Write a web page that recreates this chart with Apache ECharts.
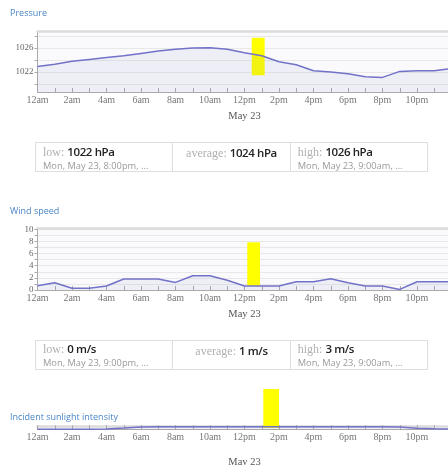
<!DOCTYPE html>
<html>
<head>
<meta charset="utf-8">
<script src="https://cdn.jsdelivr.net/npm/echarts@6/dist/echarts.min.js"></script>
<style>
  html, body { margin: 0; padding: 0; width: 448px; height: 465px; overflow: hidden; background: #fff; }
  #chart { position: absolute; left: 0; top: 0; width: 460px; height: 465px; }
  .title { position: absolute; left: 10px; font: 9px "Open Sans", sans-serif; color: #4a86c5; line-height: 12px; }
  .summary { position: absolute; left: 35px; width: 393px; height: 30px; box-sizing: border-box;
    border: 1px solid #dedede; display: flex; font-family: "Open Sans", sans-serif; }
  .summary .cell { box-sizing: border-box; padding: 1px 7px 0 7px; border-right: 1px solid #dedede; white-space: nowrap; overflow: hidden; }
  .summary .cell:last-child { border-right: none; }
  .summary .mid { text-align: center; padding-top: 2px; }
  .wind .cell { padding-top: 0; }
  .wind .mid { padding-top: 2px; }
  .lbl { font: 12px "Liberation Serif", serif; color: #b0b0b0; }
  .val { font-size: 11.5px; font-weight: 600; color: #222; letter-spacing: -0.4px; }
  .line1 { line-height: 13px; }
  .when { font-size: 9.3px; color: #9a9a9a; line-height: 12px; }
</style>
</head>
<body>
<div id="chart"></div>

<div class="title" style="top:7px">Pressure</div>
<div class="summary" style="top:142px">
  <div class="cell" style="width:138px"><div class="line1"><span class="lbl">low: </span><span class="val">1022 hPa</span></div><div class="when">Mon, May 23, 8:00pm, ...</div></div>
  <div class="cell mid" style="width:118px"><div class="line1"><span class="lbl">average: </span><span class="val">1024 hPa</span></div></div>
  <div class="cell" style="width:137px"><div class="line1"><span class="lbl">high: </span><span class="val">1026 hPa</span></div><div class="when">Mon, May 23, 9:00am, ...</div></div>
</div>

<div class="title" style="top:205px">Wind speed</div>
<div class="summary wind" style="top:340px">
  <div class="cell" style="width:138px"><div class="line1"><span class="lbl">low: </span><span class="val">0 m/s</span></div><div class="when">Mon, May 23, 9:00pm, ...</div></div>
  <div class="cell mid" style="width:118px"><div class="line1"><span class="lbl">average: </span><span class="val">1 m/s</span></div></div>
  <div class="cell" style="width:137px"><div class="line1"><span class="lbl">high: </span><span class="val">3 m/s</span></div><div class="when">Mon, May 23, 9:00am, ...</div></div>
</div>

<div class="title" style="top:411px">Incident sunlight intensity</div>

<script>
// hours 0..24 of May 23
const hours = [0, 1, 2, 3, 4, 5, 6, 7, 8, 9, 10, 11, 12, 13, 14, 15, 16, 17, 18, 19, 20, 21, 22, 23, 24]
const hourLabels = ['12am', '2am', '4am', '6am', '8am', '10am', '12pm', '2pm', '4pm', '6pm', '8pm', '10pm']
const dayLabel = 'May 23'

const pressure = [1022.9, 1023.3, 1023.8, 1024.1, 1024.4, 1024.7, 1025.1, 1025.5, 1025.8, 1026.0, 1026.05, 1025.8,
  1025.2, 1024.7, 1023.7, 1023.2, 1022.2, 1022.0, 1021.7, 1021.2, 1021.1, 1022.1, 1022.2, 1022.2, 1022.6]
const wind = [0.7, 1.2, 0.3, 0.3, 0.65, 1.8, 1.8, 1.8, 1.25, 2.35, 2.35, 1.6,
  0.65, 0.65, 0.65, 1.35, 1.35, 1.85, 1.2, 0.65, 0.65, 0.1, 1.35, 1.35, 1.35]
const sunlight = [0, 0, 0, 0, 0.08, 0.36, 0.7, 0.77, 0.78, 0.78, 0.78, 0.78,
  0.78, 0.78, 0.78, 0.78, 0.78, 0.78, 0.78, 0.78, 0.77, 0.72, 0.32, 0.14, 0.05]

// yellow "now" markers: [hourFrom, hourTo, valueTop, valueBottom]
const pressureMark = [12.42, 13.17, 1027.7, 1021.45]
const windMark = [12.16, 12.9, 7.85, 0.7]
// the sunlight one sticks out above its plot, it gets its own hidden 0..1 band
const sunMark = [13.09, 14.0, 1, 0.22]

const lineColor = '#7272c8'
const serif = '"Liberation Serif", "DejaVu Serif", serif'

const chart = echarts.init(document.getElementById('chart'))

const grids = [
  { left: 37.5, top: 31.5, width: 414, height: 60.5 },
  { left: 37.5, top: 228, width: 414, height: 62 },
  { left: 37.5, top: 426, width: 414, height: 13 }
]
const nameGaps = [19, 19, 27]

const xAxes = []
grids.forEach((g, i) => {
  xAxes.push({
    type: 'value', gridIndex: i, min: 0, max: 24, interval: 1,
    name: dayLabel, nameLocation: 'middle', nameGap: nameGaps[i],
    nameTextStyle: { fontFamily: serif, fontSize: 10.5, color: '#555' },
    axisLine: { lineStyle: { color: '#aaa' } },
    axisTick: { inside: true, length: 4, lineStyle: { color: '#aaa' } },
    axisLabel: {
      margin: 3, fontFamily: serif, fontSize: 10, color: '#777',
      showMaxLabel: false,
      formatter: v => (v % 2 === 0 && v < 24) ? hourLabels[v / 2] : ''
    },
    splitLine: { show: false }
  })
  xAxes.push({
    type: 'value', gridIndex: i, min: 0, max: 24, position: 'top',
    axisLine: { lineStyle: { color: '#dcdcdc', width: 2.5 } },
    axisTick: { show: false }, axisLabel: { show: false }, splitLine: { show: false }
  })
})
// hidden band for the sunlight marker
const markGrid = { left: 37.5, top: 389, width: 414, height: 50 }
xAxes.push({ type: 'value', gridIndex: 3, min: 0, max: 24, show: false })

const yLabel = { margin: 4, fontFamily: serif, fontSize: 9, color: '#666' }

const yAxes = [
  {
    type: 'value', gridIndex: 0, min: 1018.67, max: 1028.75, splitNumber: 5,
    axisLine: { show: true, lineStyle: { color: '#aaa' } },
    axisTick: { show: true, length: 3, lineStyle: { color: '#aaa' } },
    axisLabel: Object.assign({}, yLabel, { showMinLabel: false, showMaxLabel: false,
      formatter: v => (v === 1022 || v === 1026) ? String(v) : '' }),
    splitLine: { lineStyle: { color: '#e8e8e8' } }
  },
  {
    type: 'value', gridIndex: 1, min: 0, max: 10.2, interval: 1,
    axisLine: { show: true, lineStyle: { color: '#aaa' } },
    axisTick: { show: true, length: 3, lineStyle: { color: '#aaa' } },
    axisLabel: Object.assign({}, yLabel, { showMaxLabel: false,
      formatter: v => (v % 2 === 0) ? String(v) : '' }),
    splitLine: { lineStyle: { color: '#e8e8e8' } }
  },
  {
    type: 'value', gridIndex: 2, min: 0, max: 1,
    axisLine: { show: true, lineStyle: { color: '#aaa' } },
    axisTick: { show: false }, axisLabel: { show: false },
    splitLine: { show: false }
  },
  { type: 'value', gridIndex: 3, min: 0, max: 1, show: false }
]

const markArea = mark => ({
  silent: true,
  itemStyle: { color: '#ffff00', opacity: 1 },
  data: [[{ xAxis: mark[0], yAxis: mark[2] }, { xAxis: mark[1], yAxis: mark[3] }]]
})

const makeSeries = (values, idx, mark) => ({
  type: 'line',
  xAxisIndex: idx * 2,
  yAxisIndex: idx,
  data: hours.map((h, i) => [h, values[i]]),
  showSymbol: false,
  silent: true,
  lineStyle: { color: lineColor, width: 1.5 },
  areaStyle: { color: 'rgba(120, 120, 205, 0.13)' },
  markArea: mark ? markArea(mark) : undefined
})

chart.setOption({
  animation: false,
  grid: grids.map(g => Object.assign({ show: true, backgroundColor: '#fafafc', borderWidth: 0 }, g))
    .concat([Object.assign({ show: false }, markGrid)]),
  xAxis: xAxes,
  yAxis: yAxes,
  series: [
    makeSeries(pressure, 0, pressureMark),
    makeSeries(wind, 1, windMark),
    {
      type: 'line', xAxisIndex: 6, yAxisIndex: 3, z: 1, silent: true,
      data: [], showSymbol: false,
      markArea: markArea(sunMark)
    },
    makeSeries(sunlight, 2, null)
  ]
})
</script>
</body>
</html>
